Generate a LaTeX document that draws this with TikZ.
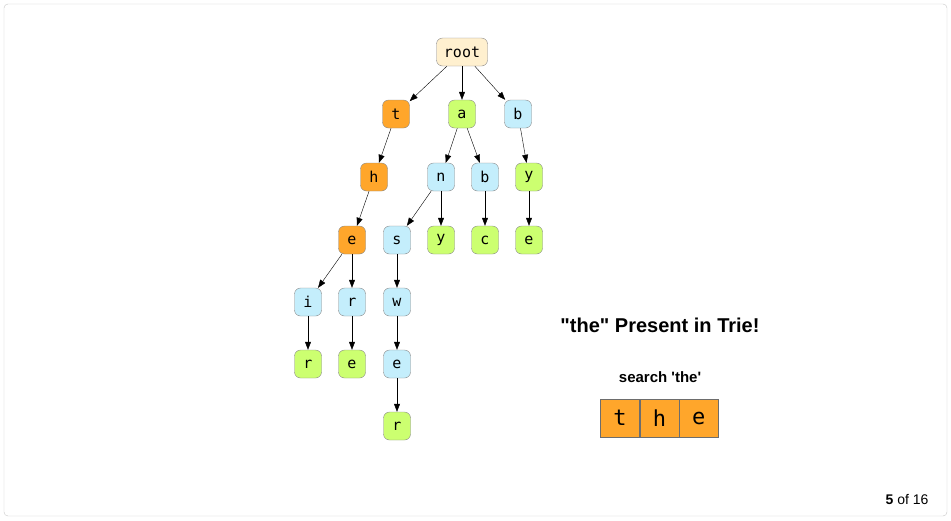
\documentclass[tikz,border=0pt]{standalone}
\usepackage{fontspec}
\setmainfont{Liberation Sans}[Ligatures=TeXOff]
\newfontfamily\trimono{DejaVu Sans Mono}
\usetikzlibrary{arrows.meta}

\definecolor{trieorange}{HTML}{FFA62B}
\definecolor{triegreen}{HTML}{CCFF70}
\definecolor{trieblue}{HTML}{C4EEFC}
\definecolor{triecream}{HTML}{FFF0CF}
\definecolor{trieedge}{HTML}{888888}

\tikzset{
	trie/.style={draw=trieedge, rounded corners=6pt, minimum width=27pt, minimum height=28pt,
		inner sep=0pt, font=\trimono\fontsize{15}{17}\selectfont},
	hit/.style={trie, fill=trieorange},
	leaf/.style={trie, fill=triegreen},
	mid/.style={trie, fill=trieblue},
	letterbox/.style={draw=trieedge!80!black, fill=trieorange, minimum width=39pt, minimum height=38pt,
		inner sep=0pt, font=\trimono\fontsize{22}{24}\selectfont},
}

\begin{document}
\begin{tikzpicture}[x=1pt, y=-1pt, arrows={-Triangle[length=8pt,width=6pt]}, thin]
	\useasboundingbox (0,0) rectangle (951,520);
	\draw[-, draw=black!22, rounded corners=4pt] (4,4) rectangle (947,516);

	\node[trie, fill=triecream, minimum width=51pt] (root) at (462,52) {root};
	\node[hit]  (t)  at (396,114) {t};
	\node[leaf] (a)  at (462,114) {a};
	\node[mid]  (b1) at (518,114) {b};

	\node[hit]  (h)  at (374,177) {h};
	\node[mid]  (n)  at (441,177) {n};
	\node[mid]  (b2) at (485,177) {b};
	\node[leaf] (y1) at (529,177) {y};

	\node[hit]  (e1) at (352,240) {e};
	\node[mid]  (s)  at (397,240) {s};
	\node[leaf] (y2) at (441,240) {y};
	\node[leaf] (c)  at (485,240) {c};
	\node[leaf] (e2) at (529,240) {e};

	\node[mid]  (i)  at (308,302) {i};
	\node[mid]  (r1) at (352,302) {r};
	\node[mid]  (w)  at (397,302) {w};

	\node[leaf] (r2) at (308,364) {r};
	\node[leaf] (e3) at (352,364) {e};
	\node[mid]  (e4) at (397,364) {e};

	\node[leaf] (r3) at (397,426) {r};

	\draw (root) to (t);
	\draw (root) to (a);
	\draw (root) to (b1);
	\draw (t) to (h);
	\draw (h) to (e1);
	\draw (e1) to (i);
	\draw (e1) to (r1);
	\draw (i) to (r2);
	\draw (r1) to (e3);
	\draw (a) to (n);
	\draw (a) to (b2);
	\draw (n) to (s);
	\draw (n) to (y2);
	\draw (s) to (w);
	\draw (w) to (e4);
	\draw (e4) to (r3);
	\draw (b2) to (c);
	\draw (b1) to (y1);
	\draw (y1) to (e2);

	% search panel
	\node[font=\bfseries\fontsize{20}{24}\selectfont] (title) at (660,325) {"the" Present in Trie!};
	\node[font=\bfseries\fontsize{15}{18}\selectfont] (query) at (660,377) {search 'the'};
	\node[letterbox] (q1) at (620,418) {t};
	\node[letterbox, anchor=west] (q2) at (q1.east) {h};
	\node[letterbox, anchor=west] (q3) at (q2.east) {e};

	\node[font=\fontsize{14}{16}\selectfont] (page) at (907,499) {\textbf{5} of 16};
\end{tikzpicture}
\end{document}
